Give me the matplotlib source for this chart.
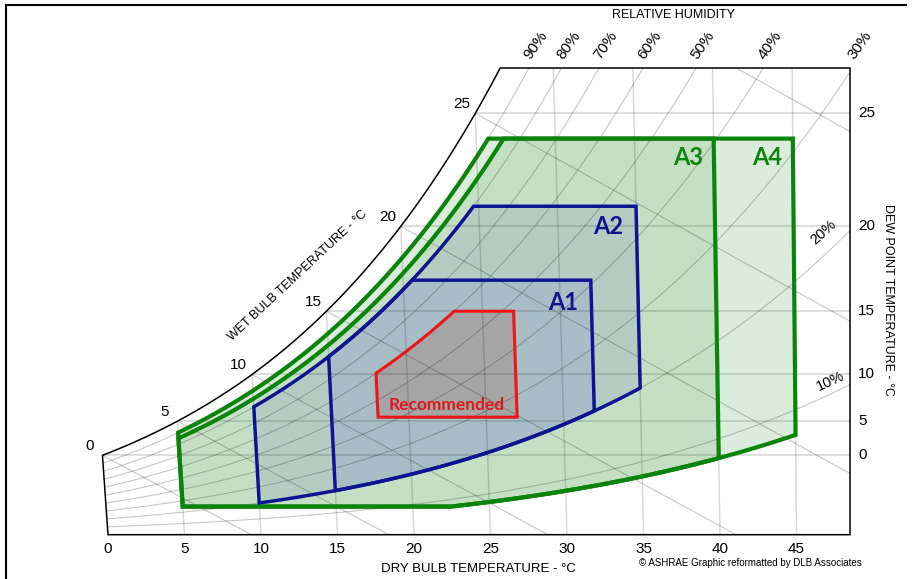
import numpy as np
import matplotlib
matplotlib.use('Agg')
import matplotlib.pyplot as plt
from matplotlib.patches import Polygon
from matplotlib.lines import Line2D

# chart frame (pixels)
X0_PX, Y0_PX = 108, 534.7      # 0 degC dry bulb / zero humidity ratio
PX_PER_C, PX_PER_G = 15.3, 21.03
RIGHT_PX, TOP_PX = 850, 68
P_ATM = 101.325                # kPa

X_MAX = (RIGHT_PX - X0_PX) / PX_PER_C
W_TOP = (Y0_PX - TOP_PX) / PX_PER_G

dry_bulb_ticks = [0, 5, 10, 15, 20, 25, 30, 35, 40, 45]
dew_point_ticks = [0, 5, 10, 15, 20, 25]
wet_bulb_lines = [0, 5, 10, 15, 20, 25, 30]
wet_bulb_labels = [0, 5, 10, 15, 20, 25]
rh_lines = [10, 20, 30, 40, 50, 60, 70, 80, 90]
rh_top_labels = [90, 80, 70, 60, 50, 40, 30]

# environmental classes: dry bulb range, humidity limits
rec_db = (18, 27)
rec_dp = (5.5, 15)
rec_rh_max = 60
a1_db = (15, 32)
a1_rh = (20, 80)
a1_dp_max = 17
a2_db = (10, 35)
a2_rh = (20, 80)
a2_dp_max = 21
a3_db = (5, 40)
a3_rh = (8, 85)
a3_dp = (-12, 24)
a4_db = (5, 45)
a4_rh = (8, 90)
a4_dp = (-12, 24)


def psat(t):
    t = np.asarray(t, dtype=float)
    water = 0.61094 * np.exp(17.625 * t / (t + 243.04))
    ice = 0.61115 * np.exp(22.452 * t / (272.55 + t))
    return np.where(t < 0, ice, water)


def t_from_ps(ps):
    a = np.log(ps / 0.61094)
    return 243.04 * a / (17.625 - a)


def w_from_pw(pw):
    return 622.0 * pw / (P_ATM - pw)          # g/kg


def w_rh(t, rh):
    return w_from_pw(rh / 100.0 * psat(t))


def w_dp(td):
    return w_from_pw(psat(td))


def chart_x(t, w):
    # ASHRAE chart: dry bulb lines lean slightly
    return t + w / 1000.0 * (1.86 * t - 96.6) / 1.006


def wet_bulb_w(t, twb):
    ws = w_dp(twb) / 1000.0
    w = ((2501 - 2.326 * twb) * ws - 1.006 * (t - twb)) / (2501 + 1.86 * t - 4.186 * twb)
    return w * 1000.0


def px(x, y):
    return (x - X0_PX) / PX_PER_C, (Y0_PX - y) / PX_PER_G


def envelope(t_lo, t_hi, rh_hi, dp_hi, rh_lo=None, dp_lo=None):
    brk = [t_from_ps(psat(dp_hi) / (rh_hi / 100.0))]
    if rh_lo is not None and dp_lo is not None:
        brk.append(t_from_ps(psat(dp_lo) / (rh_lo / 100.0)))
    brk = [b for b in brk if t_lo < b < t_hi]
    t = np.unique(np.concatenate([np.linspace(t_lo, t_hi, 400), brk]))
    upper = np.minimum(w_rh(t, rh_hi), w_dp(dp_hi))
    lower = np.zeros_like(t)
    if dp_lo is not None:
        lower = np.maximum(lower, w_dp(dp_lo))
    if rh_lo is not None:
        lower = np.maximum(lower, w_rh(t, rh_lo))
    ts = np.concatenate([t, t[::-1]])
    ws = np.concatenate([lower, upper[::-1]])
    return np.column_stack([chart_x(ts, ws), ws])


fig = plt.figure(figsize=(9.15, 5.79), dpi=100)
ax = fig.add_axes([0, 0, 1, 1])
ax.set_xlim(-X0_PX / PX_PER_C, (915 - X0_PX) / PX_PER_C)
ax.set_ylim((Y0_PX - 579) / PX_PER_G, Y0_PX / PX_PER_G)
ax.axis('off')

font = ['Liberation Sans', 'DejaVu Sans']
bold = ['Lato', 'DejaVu Sans']

# chart outline (saturation curve + frame)
t_top = t_from_ps(P_ATM * W_TOP / (622.0 + W_TOP))
t_sat = np.linspace(0, t_top, 300)
w_sat = w_dp(t_sat)
outline = np.vstack([
    np.column_stack([chart_x(t_sat, w_sat), w_sat]),
    [[X_MAX, W_TOP], [X_MAX, 0], [0, 0]],
])
frame = Polygon(outline, closed=True, fill=False, edgecolor='black',
                lw=1.1, zorder=5)
ax.add_patch(frame)

# envelopes, largest first
classes = [
    (envelope(a4_db[0], a4_db[1], a4_rh[1], a4_dp[1], a4_rh[0], a4_dp[0]), '#dcecdc', '#0b840b', 3.0),
    (envelope(a3_db[0], a3_db[1], a3_rh[1], a3_dp[1], a3_rh[0], a3_dp[0]), '#c5dfc5', '#0b840b', 3.0),
    (envelope(a2_db[0], a2_db[1], a2_rh[1], a2_dp_max, a2_rh[0]), '#b3cdc3', '#0c1591', 2.5),
    (envelope(a1_db[0], a1_db[1], a1_rh[1], a1_dp_max, a1_rh[0]), '#a7bec6', '#0c1591', 2.5),
    (envelope(rec_db[0], rec_db[1], rec_rh_max, rec_dp[1], None, rec_dp[0]), '#a5a5a5', '#f01414', 2.2),
]
for pts, fc, ec, lw in classes:
    ax.add_patch(Polygon(pts, closed=True, facecolor=fc, edgecolor='none', zorder=1))
for pts, fc, ec, lw in classes:
    ax.add_patch(Polygon(pts, closed=True, fill=False, edgecolor=ec, lw=lw,
                         joinstyle='miter', zorder=3))

# grid
grid = []
for td in dew_point_ticks:
    w = w_dp(td)
    grid += ax.plot([chart_x(td, w), X_MAX], [w, w], color='k', alpha=0.13, lw=1.4, zorder=2)
for t in dry_bulb_ticks[1:]:
    w_hi = min(w_dp(t), W_TOP)
    grid += ax.plot([chart_x(t, 0), chart_x(t, w_hi)], [0, w_hi], color='k', alpha=0.15, lw=1.1, zorder=2)
t_rng = np.linspace(0, 60, 400)
for rh in rh_lines:
    w = w_rh(t_rng, rh)
    grid += ax.plot(chart_x(t_rng, w), w, color='k', alpha=0.22, lw=0.8, zorder=2)
for twb in wet_bulb_lines:
    t = np.linspace(twb, twb + 60, 300)
    w = wet_bulb_w(t, twb)
    grid += ax.plot(chart_x(t, w), w, color='k', alpha=0.22, lw=0.8, zorder=2)
for g in grid:
    g.set_clip_path(frame)

# tick labels
for t in dry_bulb_ticks:
    ax.annotate(str(t), (chart_x(t, 0), 0), xytext=(0, -5), textcoords='offset points',
                ha='center', va='top', fontsize=11, family=font)
for td in dew_point_ticks:
    ax.annotate(str(td), (X_MAX, w_dp(td)), xytext=(6, 0), textcoords='offset points',
                ha='left', va='center', fontsize=11, family=font)
for twb in wet_bulb_labels:
    w = w_dp(twb)
    ax.annotate(str(twb), (chart_x(twb, w), w), xytext=(-9.5, 6.5), textcoords='offset points',
                ha='center', va='center', fontsize=11, family=font)
pw_top = P_ATM * W_TOP / (622.0 + W_TOP)
for rh in rh_top_labels:
    t = t_from_ps(pw_top / (rh / 100.0))
    ax.annotate(f'{rh}%', (chart_x(t, W_TOP), W_TOP), xytext=(5, 16.5), textcoords='offset points',
                ha='center', va='center', rotation=55, fontsize=11, family=font)
ax.text(*px(823, 232), '20%', rotation=42, ha='center', va='center', fontsize=10.5, family=font)
ax.text(*px(830, 381), '10%', rotation=25, ha='center', va='center', fontsize=10.5, family=font)

# axis titles
ax.text(*px(673, 15), 'RELATIVE HUMIDITY', ha='center', va='center', fontsize=9, family=font)
ax.text(*px(478, 569), 'DRY BULB TEMPERATURE - °C', ha='center', va='center', fontsize=9.5, family=font)
ax.text(*px(888, 300), 'DEW POINT TEMPERATURE - °C', ha='center', va='center', rotation=-90,
        fontsize=9, family=font)
ax.text(*px(298, 276), 'WET BULB TEMPERATURE - °C', ha='center', va='center', rotation=43,
        fontsize=9, family=font)
ax.text(*px(750, 563), '© ASHRAE Graphic reformatted by DLB Associates', ha='center', va='center',
        fontsize=7, family=font)

# class names
ax.text(*px(767, 158), 'A4', color='#0b840b', fontsize=17, fontweight='bold', ha='center', va='center', family=bold)
ax.text(*px(688, 158), 'A3', color='#0b840b', fontsize=17, fontweight='bold', ha='center', va='center', family=bold)
ax.text(*px(608, 227), 'A2', color='#0c1591', fontsize=17, fontweight='bold', ha='center', va='center', family=bold)
ax.text(*px(563, 303), 'A1', color='#0c1591', fontsize=17, fontweight='bold', ha='center', va='center', family=bold)
ax.text(*px(447, 405), 'Recommended', color='#e01818', fontsize=12.5, fontweight='bold', ha='center',
        va='center', family=bold)

# page border
fig.add_artist(Line2D([6 / 915, 906 / 915], [1 - 5 / 579] * 2, transform=fig.transFigure, color='k', lw=1.5))
fig.add_artist(Line2D([6 / 915] * 2, [1 - 5 / 579, 0], transform=fig.transFigure, color='k', lw=1.5))

fig.savefig('out.png', dpi=100)
